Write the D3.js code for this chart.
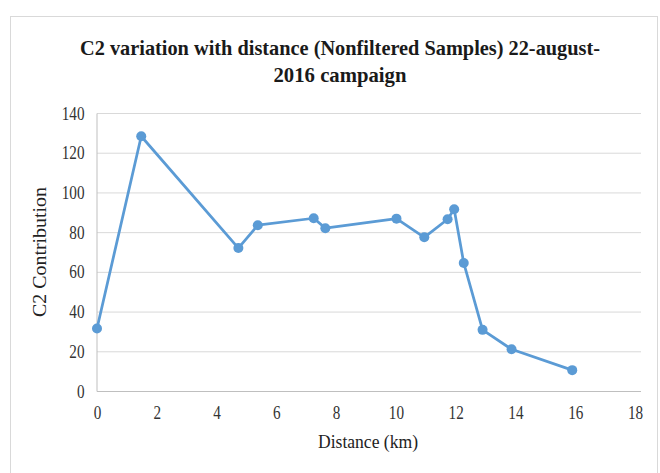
<!DOCTYPE html>
<html>
<head>
<meta charset="utf-8">
<script src="https://cdn.jsdelivr.net/npm/d3@7"></script>
<style>
  body { margin: 0; background: #fff; }
  svg text { font-family: "Liberation Serif", "Times New Roman", serif; }
</style>
</head>
<body>
<div id="canvas"></div>
<script>
// data
let distanceKm = [0, 1.48, 4.73, 5.38, 7.25, 7.64, 10.02, 10.95, 11.73, 11.95, 12.27, 12.9, 13.87, 15.9];
let c2Values = [31.5, 128.3, 72, 83.5, 87, 82, 86.8, 77.4, 86.5, 91.5, 64.5, 30.8, 21, 10.5];
let xTicks = [0, 2, 4, 6, 8, 10, 12, 14, 16, 18];
let yTicks = [0, 20, 40, 60, 80, 100, 120, 140];
let titleLines = ["C2 variation with  distance (Nonfiltered Samples) 22-august-", "2016 campaign"];

let drawing = d3.select("#canvas")
    .append("svg")
    .attr("width", 660)
    .attr("height", 473);

// outer chart border
drawing.append("rect")
    .attr("x", 10.5)
    .attr("y", 16.5)
    .attr("width", 647)
    .attr("height", 470)
    .attr("fill", "#fff")
    .attr("stroke", "#d9d9d9");

let plotLeft = 97, plotRight = 635, plotTop = 113, plotBottom = 391;

let x = d3.scaleLinear().domain([0, 18]).range([plotLeft, plotRight]);
let y = d3.scaleLinear().domain([0, 140]).range([plotBottom, plotTop]);

// horizontal gridlines
drawing.append("g")
    .selectAll("line")
    .data(yTicks.filter(d => d > 0))
    .join("line")
    .attr("x1", plotLeft)
    .attr("x2", 641)
    .attr("y1", d => y(d) + 0.5)
    .attr("y2", d => y(d) + 0.5)
    .attr("stroke", "#d9d9d9")
    .attr("stroke-width", 1);

// x axis
let xAxis = drawing.append("g")
    .attr("transform", "translate(0," + (plotBottom + 0.5) + ")")
    .call(d3.axisBottom(x).tickValues(xTicks).tickSize(0).tickPadding(14).tickFormat(d3.format("d")));
xAxis.select(".domain").attr("stroke", "#bfbfbf").attr("d", "M" + plotLeft + ",0H641");
xAxis.selectAll("text")
    .attr("font-size", 19)
    .attr("fill", "#333")
    .attr("transform", "scale(0.8,1)");

// y axis
let yAxis = drawing.append("g")
    .attr("transform", "translate(" + (plotLeft - 0.5) + ",0)")
    .call(d3.axisLeft(y).tickValues(yTicks).tickSize(0).tickPadding(15));
yAxis.select(".domain").attr("stroke", "#bfbfbf");
yAxis.selectAll("text")
    .attr("font-size", 19)
    .attr("fill", "#333")
    .attr("transform", "scale(0.8,1)");

// line and markers
let line = d3.line()
    .x((d, i) => x(distanceKm[i]))
    .y(d => y(d));

drawing.append("path")
    .datum(c2Values)
    .attr("d", line)
    .attr("fill", "none")
    .attr("stroke", "#5b9bd5")
    .attr("stroke-width", 2.75)
    .attr("stroke-linejoin", "round");

drawing.append("g")
    .selectAll("circle")
    .data(c2Values)
    .join("circle")
    .attr("cx", (d, i) => x(distanceKm[i]))
    .attr("cy", d => y(d))
    .attr("r", 5)
    .attr("fill", "#5b9bd5");

// title
drawing.append("text")
    .attr("x", 340)
    .attr("y", 55)
    .attr("text-anchor", "middle")
    .attr("font-size", 22)
    .attr("font-weight", "bold")
    .attr("fill", "#1a1a1a")
    .attr("textLength", 520)
    .attr("lengthAdjust", "spacingAndGlyphs")
    .text(titleLines[0]);

drawing.append("text")
    .attr("x", 340)
    .attr("y", 82)
    .attr("text-anchor", "middle")
    .attr("font-size", 22)
    .attr("font-weight", "bold")
    .attr("fill", "#1a1a1a")
    .attr("textLength", 133)
    .attr("lengthAdjust", "spacingAndGlyphs")
    .text(titleLines[1]);

// axis titles
drawing.append("text")
    .attr("x", 368)
    .attr("y", 448)
    .attr("text-anchor", "middle")
    .attr("font-size", 19)
    .attr("fill", "#222")
    .attr("textLength", 100)
    .attr("lengthAdjust", "spacingAndGlyphs")
    .text("Distance (km)");

drawing.append("text")
    .attr("transform", "translate(46," + ((plotTop + plotBottom) / 2) + ") rotate(-90)")
    .attr("text-anchor", "middle")
    .attr("font-size", 19)
    .attr("fill", "#222")
    .attr("textLength", 130)
    .attr("lengthAdjust", "spacingAndGlyphs")
    .text("C2 Contribution");
</script>
</body>
</html>
